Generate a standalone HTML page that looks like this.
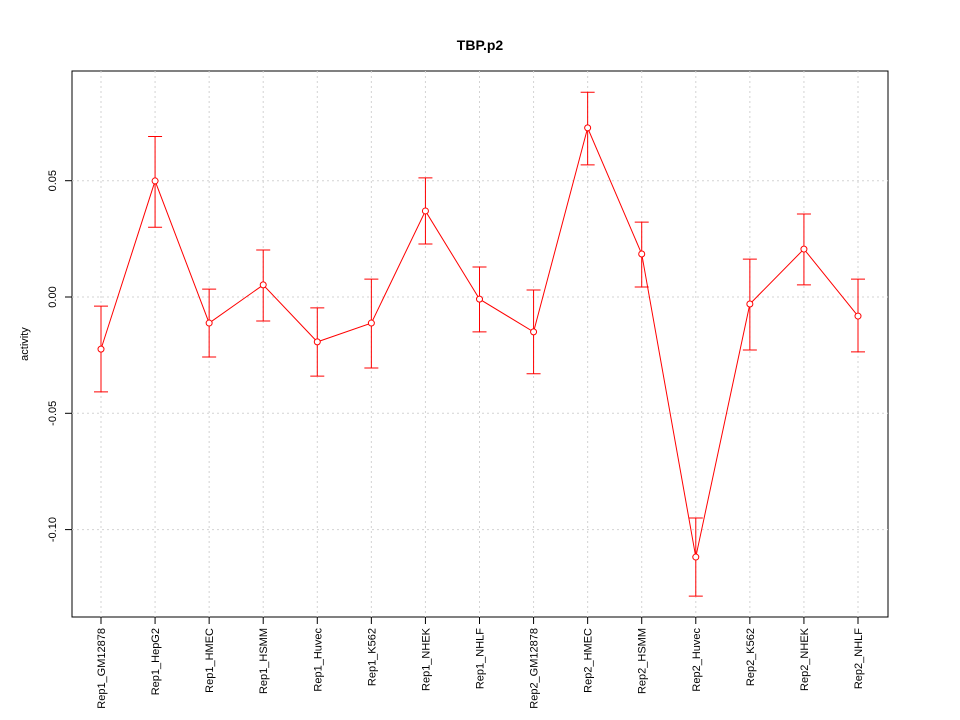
<!DOCTYPE html>
<html><head><meta charset="utf-8"><style>
body{margin:0;background:#fff}
svg{display:block;font-family:"Liberation Sans",sans-serif}
</style></head><body>
<svg id="chart" width="960" height="720" viewBox="0 0 960 720">
<text x="480" y="50" text-anchor="middle" font-size="14" font-weight="bold">TBP.p2</text>
<rect x="72" y="71" width="816" height="546" fill="none" stroke="#000"/>
<text transform="translate(28,344) rotate(-90)" text-anchor="middle" font-size="11">activity</text>
<g id="grid"></g><g id="axes"></g><g id="series"></g>
</svg>
<script>
const categories=["Rep1_GM12878","Rep1_HepG2","Rep1_HMEC","Rep1_HSMM","Rep1_Huvec","Rep1_K562","Rep1_NHEK","Rep1_NHLF","Rep2_GM12878","Rep2_HMEC","Rep2_HSMM","Rep2_Huvec","Rep2_K562","Rep2_NHEK","Rep2_NHLF"];
const values=[-0.0224,0.0499,-0.0112,0.0052,-0.0193,-0.0112,0.0370,-0.0009,-0.0150,0.0727,0.0185,-0.1118,-0.0030,0.0206,-0.0082];
const upper=[-0.0039,0.0690,0.0034,0.0202,-0.0047,0.0077,0.0512,0.0129,0.0030,0.0880,0.0322,-0.0950,0.0163,0.0357,0.0077];
const lower=[-0.0408,0.0300,-0.0258,-0.0103,-0.0340,-0.0305,0.0228,-0.0150,-0.0330,0.0568,0.0043,-0.1286,-0.0228,0.0052,-0.0236];
const yTicks=[-0.10,-0.05,0.00,0.05];
const yTickLabels=["-0.10","-0.05","0.00","0.05"];
const NS="http://www.w3.org/2000/svg";
const x=i=>101+i*(858-101)/(categories.length-1);
const y=v=>297-v*2326;
function mk(tag,attrs,parent){const e=document.createElementNS(NS,tag);for(const k in attrs)e.setAttribute(k,attrs[k]);document.getElementById(parent).appendChild(e);return e;}
yTicks.forEach((t,i)=>{
 const g=mk("line",{x1:72,x2:888,y1:y(t),y2:y(t),stroke:"#d3d3d3","stroke-dasharray":"2,3"},"grid");
 
 
 const tk=mk("line",{x1:65,x2:72,y1:y(t),y2:y(t),stroke:"#000"},"axes");
 
 
 const lb=mk("text",{transform:`translate(56,${y(t)}) rotate(-90)`,"text-anchor":"middle","font-size":"11"},"axes");
 lb.textContent=yTickLabels[i];
 
 
});
categories.forEach((c,i)=>{
 const g=mk("line",{x1:x(i),x2:x(i),y1:71,y2:617,stroke:"#d3d3d3","stroke-dasharray":"2,3"},"grid");
 
 
 const tk=mk("line",{x1:x(i),x2:x(i),y1:617,y2:624,stroke:"#000"},"axes");
 
 
 const lb=mk("text",{transform:`translate(${x(i)+4},628) rotate(-90)`,"text-anchor":"end","font-size":"11"},"axes");
 lb.textContent=c;
 
 
});
const pl=mk("polyline",{points:values.map((v,i)=>x(i)+","+y(v)).join(" "),fill:"none",stroke:"#ff0000"},"series");


values.forEach((v,i)=>{
 const e=mk("path",{d:`M${x(i)},${y(upper[i])}V${y(lower[i])}M${x(i)-7},${y(upper[i])}H${x(i)+7}M${x(i)-7},${y(lower[i])}H${x(i)+7}`,stroke:"#ff0000",fill:"none"},"series");
 
 
 const p=mk("circle",{cx:x(i),cy:y(v),r:3,fill:"#fff",stroke:"#ff0000"},"series");
 
 
});
</script>
</body></html>
